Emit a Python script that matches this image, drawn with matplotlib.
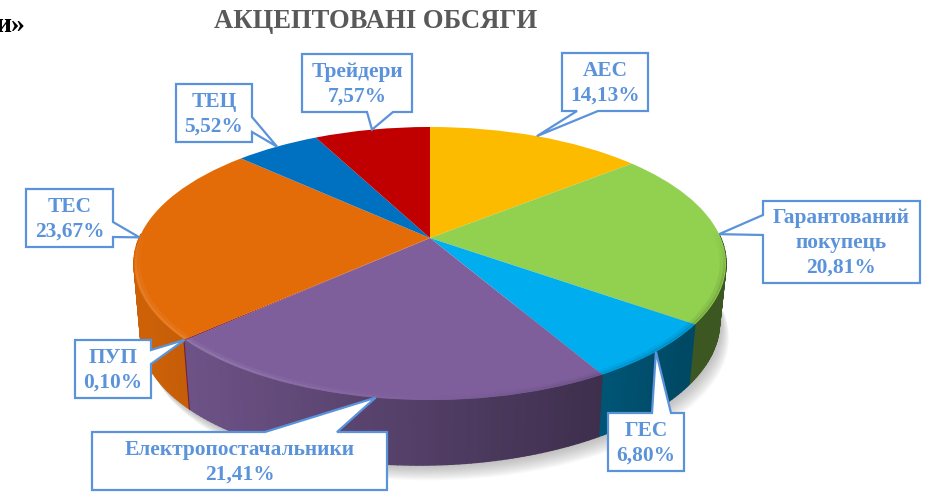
import numpy as np
import matplotlib
matplotlib.use("Agg")
import matplotlib.pyplot as plt
from matplotlib.transforms import Transform
from matplotlib.path import Path
from matplotlib.patches import PathPatch
from matplotlib.colors import to_rgb

# ---- data ----
categories = ["АЕС", "Гарантований\nпокупець", "ГЕС", "Електропостачальники",
              "ПУП", "ТЕС", "ТЕЦ", "Трейдери"]
values = [14.13, 20.81, 6.80, 21.41, 0.10, 23.67, 5.52, 7.57]
value_labels = ["14,13%", "20,81%", "6,80%", "21,41%", "0,10%", "23,67%", "5,52%", "7,57%"]
colors = ["#FDBB00", "#92D050", "#00ADEF", "#7E5F9C", "#8A2438", "#E36C09", "#0070C0", "#C00000"]
title = "АКЦЕПТОВАНІ ОБСЯГИ"

# ---- layout (pixels) ----
W, H = 928, 493
CX, CY = 430.0, 238.0
K, B, C = 0.1868, -87.3, 290.8
SIDE_SCALE = 0.978
FONT = "Liberation Serif"
BLUE = "#5B93DB"
# callout: x0, x1, y0, y1, side of pointer, base start, base end
boxes = [
    (562, 648, 53, 111, "bottom", 577, 598),
    (763, 920, 201, 283, "left", 215, 235),
    (608, 684, 413, 471, "top", 652, 671),
    (92, 387, 432, 490, "top", 265, 337),
    (75, 151, 340, 398, "right", 350, 364),
    (26, 113, 189, 247, "right", 222, 237),
    (176, 252, 84, 142, "right", 117, 132),
    (302, 412, 54, 112, "bottom", 367, 393),
]


def project(u, v):
    d = 1 + K * v
    return CX + C * u / d, (CY + B * v) / d


class PieProjection(Transform):
    """Perspective view of the unit-circle pie, in pixel data coordinates."""
    input_dims = output_dims = 2
    is_affine = False
    has_inverse = False

    def transform_non_affine(self, xy):
        xy = np.asarray(xy, float)
        x, y = project(xy[:, 0], xy[:, 1])
        return np.column_stack([x, y])


def rim_top(phi, r=1.0):
    return project(r * np.cos(phi), r * np.sin(phi))


def rim_bottom(phi):
    x, y = rim_top(phi)
    return CX + SIDE_SCALE * (x - CX), y + 65 - 6 * np.cos(phi)


def blend(c, target, a):
    c = np.array(to_rgb(c))
    return tuple(np.clip(c * (1 - a) + np.array(target) * a, 0, 1))


plt.rcParams["font.family"] = [FONT, "DejaVu Sans"]
fig = plt.figure(figsize=(W / 100, H / 100), dpi=100, facecolor="white")
ax = fig.add_axes([0, 0, 1, 1])

wedges, _ = ax.pie(values, colors=colors, startangle=90, counterclock=False,
                   wedgeprops=dict(linewidth=0, zorder=5))
ax.set_aspect("auto")
ax.set_xlim(0, W)
ax.set_ylim(H, 0)
ax.axis("off")
proj = PieProjection()
for w in wedges:
    w.set_transform(proj + ax.transData)
    w.set_antialiased(True)

# soft shadow below the body
phis = np.linspace(np.pi, 2 * np.pi, 181)
bx, by = rim_bottom(phis)
for i in range(16, 0, -1):
    ax.fill(bx + i * 0.6, by + i * 0.95, color="#707070", alpha=0.03, lw=0, zorder=1)

# side wall: strips, shaded from left to right
strips = []
for w, col in zip(wedges, colors):
    t1, t2 = np.radians(w.theta1), np.radians(w.theta2)
    n = max(int((t2 - t1) / np.radians(1.0)), 1)
    edges = np.linspace(t1, t2, n + 1)
    for a, b in zip(edges[:-1], edges[1:]):
        mid = (a + b) / 2
        if np.sin(mid) > 0.03:
            continue
        xa, ya = rim_top(a)
        xb, yb = rim_top(b)
        xc, yc = rim_bottom(b)
        xd, yd = rim_bottom(a)
        xm = (xa + xb) / 2
        f = np.clip(0.88 - (xm - 170) * 0.42 / 470, 0.42, 0.9)
        shade = tuple(np.array(to_rgb(col)) * f)
        strips.append(((ya + yb) / 2, [xa, xb, xc, xd], [ya, yb, yc, yd], shade))
for _, xs, ys, shade in sorted(strips, key=lambda s: s[0]):
    ax.fill(xs, ys, color=shade, lw=1.0, zorder=3)

# bevel along the front edge of the top face
for w, col in zip(wedges, colors):
    t1, t2 = np.radians(w.theta1), np.radians(w.theta2)
    n = max(int((t2 - t1) / np.radians(1.0)), 1)
    edges = np.linspace(t1, t2, n + 1)
    for a, b in zip(edges[:-1], edges[1:]):
        mid = (a + b) / 2
        s, c = np.sin(mid), np.cos(mid)
        if s > 0.05:
            continue
        fade = np.clip((0.05 - s) / 0.35, 0, 1)
        if c < 0:
            tgt, amt = (1, 1, 1), 0.17 * np.clip(-c * 1.6, 0, 1) * fade
        else:
            tgt, amt = (0, 0, 0), 0.2 * np.clip(c * 1.4, 0, 1) * fade
        shade = blend(col, tgt, amt)
        for r, lw, alpha in ((0.985, 2.4, 0.3), (0.994, 1.5, 0.8)):
            xa, ya = rim_top(a, r)
            xb, yb = rim_top(b, r)
            ax.plot([xa, xb], [ya, yb], color=shade, lw=lw, alpha=alpha,
                    solid_capstyle="butt", zorder=6)

# callouts with pointers at the middle of each slice
for w, name, label, box in zip(wedges, categories, value_labels, boxes):
    x0, x1, y0, y1, side, b0, b1 = box
    mid = np.radians((w.theta1 + w.theta2) / 2)
    tx, ty = rim_top(mid)
    if side == "top":
        pts = [(x0, y0), (b0, y0), (tx, ty), (b1, y0), (x1, y0), (x1, y1), (x0, y1)]
    elif side == "bottom":
        pts = [(x0, y0), (x1, y0), (x1, y1), (b1, y1), (tx, ty), (b0, y1), (x0, y1)]
    elif side == "right":
        pts = [(x0, y0), (x1, y0), (x1, b0), (tx, ty), (x1, b1), (x1, y1), (x0, y1)]
    else:
        pts = [(x0, y0), (x1, y0), (x1, y1), (x0, y1), (x0, b1), (tx, ty), (x0, b0)]
    pts.append(pts[0])
    ax.add_patch(PathPatch(Path(pts, closed=True), fc="white", ec=BLUE, lw=1.6,
                           joinstyle="miter", zorder=10))
    ax.text((x0 + x1) / 2, (y0 + y1) / 2 + 1, f"{name}\n{label}", ha="center", va="center",
            color=BLUE, fontsize=15.4, fontweight="bold", linespacing=1.32, zorder=11)

ax.text(376, 22, title, ha="center", va="center", color="#595959",
        fontsize=19.2, fontweight="bold")
ax.text(-5, 25, "и»", ha="left", va="center", color="black", fontsize=20, fontweight="bold")

fig.savefig("out.png", dpi=100, facecolor="white")
